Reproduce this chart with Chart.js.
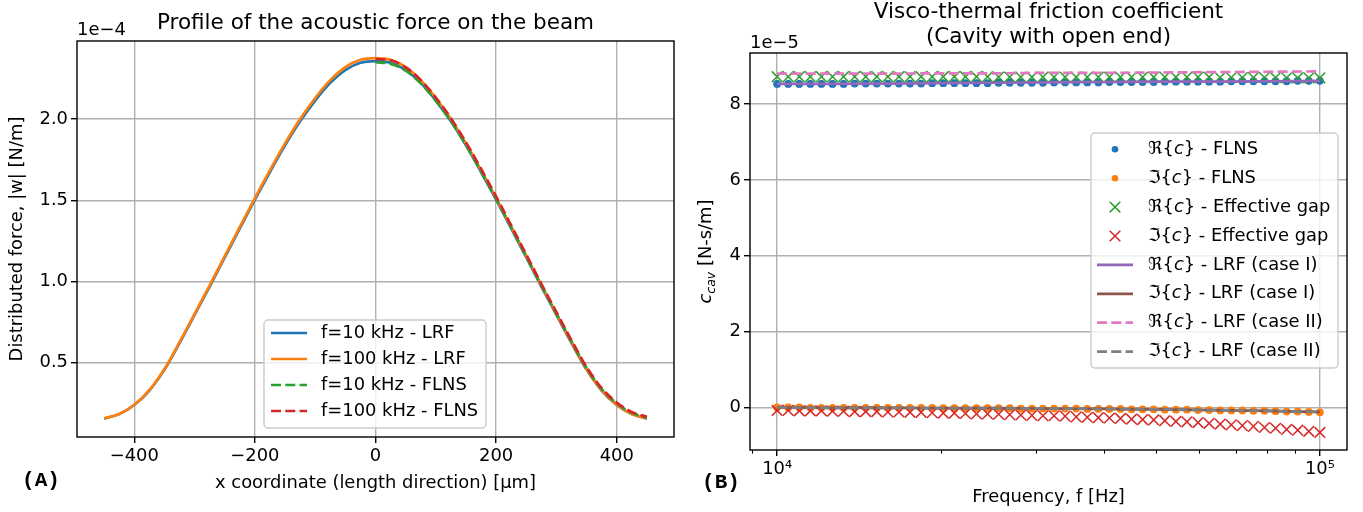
<!DOCTYPE html>
<html>
<head>
<meta charset="utf-8">
<script src="https://cdn.jsdelivr.net/npm/chart.js@4.4.1/dist/chart.umd.min.js"></script>
<style>
    html, body { margin: 0; padding: 0; background: #fff; }
    #wrap { position: relative; width: 1363px; height: 512px; overflow: hidden; }
    #profileChart { position: absolute; left: 0; top: 0; }
    #frictionChart { position: absolute; left: 690px; top: 0; }
</style>
</head>
<body>
<div id="wrap">
    <canvas id="profileChart" width="690" height="512"></canvas>
    <canvas id="frictionChart" width="673" height="512"></canvas>
</div>
<script>
/* ====================================
   DATA - (A) ACOUSTIC FORCE PROFILE (x 1e-4 N/m)
==================================== */

const profileX = [
    -450, -425, -400, -375, -350, -325, -300, -275, -250, -225,
    -200, -175, -150, -125, -100, -75, -50, -25, 0,
    25, 50, 75, 100, 125, 150, 175, 200, 225, 250,
    275, 300, 325, 350, 375, 400, 425, 450
];

const lrf10k = [
    0.154, 0.182, 0.238, 0.327, 0.456, 0.620, 0.794, 0.968, 1.147, 1.326,
    1.503, 1.674, 1.838, 1.986, 2.114, 2.223, 2.302, 2.347, 2.357,
    2.347, 2.302, 2.223, 2.114, 1.986, 1.838, 1.674, 1.503, 1.326, 1.147,
    0.968, 0.794, 0.620, 0.456, 0.327, 0.238, 0.182, 0.154
];

const lrf100k = [
    0.155, 0.183, 0.240, 0.330, 0.460, 0.625, 0.800, 0.975, 1.155, 1.335,
    1.513, 1.685, 1.850, 2.000, 2.130, 2.240, 2.320, 2.365, 2.375,
    2.365, 2.320, 2.240, 2.130, 2.000, 1.850, 1.685, 1.513, 1.335, 1.155,
    0.975, 0.800, 0.625, 0.460, 0.330, 0.240, 0.183, 0.155
];

const flnsX = [
    0, 25, 50, 75, 100, 125, 150, 175, 200, 225,
    250, 275, 300, 325, 350, 375, 400, 425, 450
];

const flns10k = [
    2.350, 2.340, 2.298, 2.220, 2.113, 1.987, 1.840, 1.678, 1.508, 1.332,
    1.153, 0.975, 0.802, 0.630, 0.466, 0.337, 0.248, 0.190, 0.160
];

const flns100k = [
    2.370, 2.362, 2.318, 2.240, 2.132, 2.005, 1.857, 1.694, 1.523, 1.345,
    1.165, 0.985, 0.810, 0.637, 0.472, 0.342, 0.253, 0.195, 0.165
];

const profileXTicks = [-400, -200, 0, 200, 400];
const profileXTickLabels = ["\u2212400", "\u2212200", "0", "200", "400"];
const profileYTicks = [0.5, 1.0, 1.5, 2.0];
const profileYTickLabels = ["0.5", "1.0", "1.5", "2.0"];

/* ====================================
   DATA - (B) FRICTION COEFFICIENT (x 1e-5 N-s/m)
==================================== */

const freq = [
    10000, 10481, 10985, 11514, 12068, 12649, 13257, 13895, 14563, 15264,
    15999, 16768, 17575, 18421, 19307, 20236, 21210, 22230, 23300, 24421,
    25595, 26827, 28118, 29471, 30888, 32375, 33932, 35565, 37276, 39069,
    40949, 42919, 44984, 47149, 49417, 51795, 54287, 56899, 59636, 62506,
    65513, 68665, 71969, 75431, 79060, 82864, 86851, 91029, 95409, 100000
];

const reFlns = [
    8.53, 8.53, 8.53, 8.53, 8.53, 8.53, 8.53, 8.54, 8.54, 8.54,
    8.54, 8.54, 8.54, 8.54, 8.55, 8.55, 8.55, 8.55, 8.55, 8.55,
    8.56, 8.56, 8.56, 8.56, 8.56, 8.57, 8.57, 8.57, 8.57, 8.57,
    8.58, 8.58, 8.58, 8.58, 8.58, 8.59, 8.59, 8.59, 8.59, 8.59,
    8.59, 8.60, 8.60, 8.60, 8.60, 8.60, 8.60, 8.61, 8.61, 8.61
];

const imFlns = [
    0.00, 0.00, 0.00, -0.01, -0.01, -0.01, -0.01, -0.01, -0.01, -0.01,
    -0.01, -0.01, -0.01, -0.01, -0.01, -0.02, -0.02, -0.02, -0.02, -0.02,
    -0.02, -0.02, -0.03, -0.03, -0.03, -0.03, -0.03, -0.03, -0.04, -0.04,
    -0.04, -0.04, -0.05, -0.05, -0.05, -0.06, -0.06, -0.06, -0.07, -0.07,
    -0.08, -0.08, -0.08, -0.09, -0.09, -0.10, -0.11, -0.11, -0.12, -0.13
];

const reGap = [
    8.72, 8.72, 8.72, 8.72, 8.72, 8.72, 8.72, 8.72, 8.72, 8.72,
    8.72, 8.72, 8.72, 8.72, 8.72, 8.72, 8.72, 8.72, 8.72, 8.72,
    8.71, 8.71, 8.71, 8.71, 8.71, 8.71, 8.71, 8.71, 8.71, 8.71,
    8.71, 8.71, 8.71, 8.71, 8.71, 8.71, 8.71, 8.71, 8.71, 8.71,
    8.70, 8.70, 8.70, 8.70, 8.70, 8.70, 8.69, 8.69, 8.69, 8.69
];

const imGap = [
    -0.08, -0.08, -0.09, -0.09, -0.09, -0.10, -0.10, -0.11, -0.11, -0.11,
    -0.12, -0.12, -0.13, -0.13, -0.14, -0.15, -0.15, -0.16, -0.17, -0.17,
    -0.18, -0.19, -0.20, -0.21, -0.22, -0.22, -0.23, -0.25, -0.26, -0.27,
    -0.28, -0.29, -0.31, -0.32, -0.33, -0.35, -0.37, -0.38, -0.40, -0.42,
    -0.44, -0.46, -0.48, -0.50, -0.53, -0.55, -0.58, -0.60, -0.63, -0.66
];

const freqLine = [
    10000, 12589, 15849, 19953, 25119, 31623, 39811, 50119, 63096, 79433, 100000
];

const reLrfCase1 = [8.53, 8.53, 8.54, 8.55, 8.56, 8.57, 8.58, 8.59, 8.59, 8.60, 8.61];
const imLrfCase1 = [0.00, -0.01, -0.01, -0.02, -0.02, -0.03, -0.04, -0.05, -0.07, -0.09, -0.12];
const reLrfCase2 = [8.80, 8.80, 8.80, 8.81, 8.81, 8.82, 8.82, 8.83, 8.84, 8.85, 8.86];
const imLrfCase2 = [0.00, -0.01, -0.01, -0.02, -0.02, -0.03, -0.04, -0.05, -0.07, -0.09, -0.12];

const freqTicks = [10000, 100000];
const freqTickLabels = ["10\u2074", "10\u2075"];
const freqMinorTicks = [9000, 20000, 30000, 40000, 50000, 60000, 70000, 80000, 90000];
const cavYTicks = [0, 2, 4, 6, 8];
const cavYTickLabels = ["0", "2", "4", "6", "8"];

/* ====================================
   STYLE
==================================== */

const FAMILY = "'DejaVu Sans'";
const FS = 17.9;
const DASH = [10, 4.3];
const GRID = "#b0b0b0";

Chart.defaults.font.family = FAMILY;
Chart.defaults.color = "#000";

function toPoints(xs, ys) {
    return xs.map((x, i) => ({ x: x, y: ys[i] }));
}

function lineSet(label, xs, ys, color, dash, order) {
    return {
        label: label,
        data: toPoints(xs, ys),
        borderColor: color,
        backgroundColor: color,
        borderWidth: 2.7,
        borderDash: dash,
        pointRadius: 0,
        cubicInterpolationMode: "monotone",
        order: order,
        legendKind: "line"
    };
}

function markerSet(label, xs, ys, color, style, order) {
    const dot = style === "circle";
    return {
        label: label,
        data: toPoints(xs, ys),
        showLine: false,
        borderColor: color,
        backgroundColor: color,
        pointStyle: style,
        pointRadius: dot ? 3.3 : 7.5,
        pointBorderWidth: dot ? 1.2 : 1.5,
        pointBackgroundColor: color,
        pointBorderColor: color,
        order: order,
        legendKind: style
    };
}

function axis(min, max, ticks, labels, size, extra) {
    return Object.assign({
        min: min,
        max: max,
        afterBuildTicks: s => { s.ticks = ticks.map(v => ({ value: v })); },
        afterFit: s => {
            if (s.isHorizontal()) s.height = size; else s.width = size;
        },
        ticks: {
            callback: (v, i) => labels[i],
            autoSkip: false,
            maxRotation: 0,
            font: { size: FS },
            color: "#000"
        },
        grid: {
            color: GRID,
            lineWidth: 1.4,
            tickColor: "#000",
            tickWidth: 1.4,
            tickLength: 6
        },
        border: { display: false }
    }, extra);
}

/* ====================================
   DECORATION PLUGIN (frame, titles, legend)
==================================== */

function drawRich(ctx, text, x, y) {
    const k = text.indexOf("{c}");
    ctx.font = FS + "px " + FAMILY;
    if (k < 0) { ctx.fillText(text, x, y); return; }
    const head = text.slice(0, k + 1);
    const tail = text.slice(k + 2);
    ctx.fillText(head, x, y);
    x += ctx.measureText(head).width;
    ctx.font = "italic " + FS + "px " + FAMILY;
    ctx.fillText("c", x, y);
    x += ctx.measureText("c").width;
    ctx.font = FS + "px " + FAMILY;
    ctx.fillText(tail, x, y);
}

function drawLegend(ctx, chart, lg) {
    ctx.save();
    ctx.fillStyle = "rgba(255,255,255,0.8)";
    ctx.strokeStyle = "#cccccc";
    ctx.lineWidth = 1.4;
    ctx.beginPath();
    ctx.roundRect(lg.x, lg.y, lg.w, lg.h, 4);
    ctx.fill();
    ctx.stroke();

    chart.data.datasets.forEach((ds, i) => {
        const cy = lg.row0 + i * lg.step;
        const x0 = lg.sampleX;
        const x1 = lg.sampleX + 36;
        const mx = (x0 + x1) / 2;
        ctx.strokeStyle = ds.borderColor;
        ctx.fillStyle = ds.borderColor;
        if (ds.legendKind === "line") {
            ctx.lineWidth = 2.7;
            ctx.setLineDash(ds.borderDash || []);
            ctx.beginPath();
            ctx.moveTo(x0, cy);
            ctx.lineTo(x1, cy);
            ctx.stroke();
            ctx.setLineDash([]);
        } else if (ds.legendKind === "circle") {
            ctx.beginPath();
            ctx.arc(mx, cy, 3.3, 0, Math.PI * 2);
            ctx.fill();
        } else {
            const h = 7.5 * Math.SQRT1_2;
            ctx.lineWidth = 1.5;
            ctx.beginPath();
            ctx.moveTo(mx - h, cy - h);
            ctx.lineTo(mx + h, cy + h);
            ctx.moveTo(mx + h, cy - h);
            ctx.lineTo(mx - h, cy + h);
            ctx.stroke();
        }
        ctx.fillStyle = "#000";
        ctx.textAlign = "left";
        ctx.textBaseline = "middle";
        drawRich(ctx, ds.label, lg.textX, cy);
    });
    ctx.restore();
}

const decorPlugin = {
    id: "decor",
    afterDraw(chart, args, opts) {
        const ctx = chart.ctx;
        const a = chart.chartArea;
        ctx.save();

        // minor ticks of the log axis
        if (opts.minorTicks) {
            const xs = chart.scales.x;
            ctx.strokeStyle = "#000";
            ctx.lineWidth = 1.1;
            opts.minorTicks.forEach(v => {
                const px = Math.round(xs.getPixelForValue(v)) + 0.5;
                ctx.beginPath();
                ctx.moveTo(px, a.bottom);
                ctx.lineTo(px, a.bottom + 3.6);
                ctx.stroke();
            });
        }

        // axes frame
        ctx.strokeStyle = "#000";
        ctx.lineWidth = 1.4;
        ctx.strokeRect(a.left, a.top, a.right - a.left, a.bottom - a.top);

        // title
        ctx.fillStyle = "#000";
        ctx.textAlign = "center";
        ctx.textBaseline = "alphabetic";
        ctx.font = "21.5px " + FAMILY;
        opts.title.forEach((t, i) => {
            ctx.fillText(t, (a.left + a.right) / 2, opts.titleY[i]);
        });

        // scale offset text
        ctx.textAlign = "left";
        ctx.font = FS + "px " + FAMILY;
        ctx.fillText(opts.offsetText, a.left, opts.offsetY);

        // panel label
        ctx.font = "bold 21px 'Liberation Mono'";
        ctx.textAlign = "center";
        ctx.textBaseline = "middle";
        ctx.fillText(opts.panel.text, opts.panel.x, opts.panel.y);

        // custom y title with subscript
        if (opts.cavTitle) {
            const parts = [
                { t: "c", f: "italic " + FS + "px " + FAMILY, dy: 0 },
                { t: "cav", f: "italic 12.5px " + FAMILY, dy: 3.5 },
                { t: " [N-s/m]", f: FS + "px " + FAMILY, dy: 0 }
            ];
            let total = 0;
            parts.forEach(p => { ctx.font = p.f; p.w = ctx.measureText(p.t).width; total += p.w; });
            ctx.save();
            ctx.translate(opts.cavTitle.x, (a.top + a.bottom) / 2);
            ctx.rotate(-Math.PI / 2);
            ctx.textAlign = "left";
            ctx.textBaseline = "alphabetic";
            let x = -total / 2;
            parts.forEach(p => { ctx.font = p.f; ctx.fillText(p.t, x, p.dy); x += p.w; });
            ctx.restore();
        }

        drawLegend(ctx, chart, opts.legend);
        ctx.restore();
    }
};

/* ====================================
   (A) PROFILE CHART
==================================== */

function createProfileChart() {

    new Chart(document.getElementById("profileChart"), {
        type: "line",
        data: {
            datasets: [
                lineSet("f=10 kHz - LRF", profileX, lrf10k, "#1f77b4", [], 4),
                lineSet("f=100 kHz - LRF", profileX, lrf100k, "#ff7f0e", [], 3),
                lineSet("f=10 kHz - FLNS", flnsX, flns10k, "#2ca02c", DASH, 2),
                lineSet("f=100 kHz - FLNS", flnsX, flns100k, "#d62728", DASH, 1)
            ]
        },
        options: {
            responsive: false,
            animation: false,
            layout: { padding: { top: 41, right: 16, left: 0, bottom: 0 } },
            plugins: {
                legend: { display: false },
                tooltip: { enabled: false },
                decor: {
                    title: ["Profile of the acoustic force on the beam"],
                    titleY: [29],
                    offsetText: "1e\u22124",
                    offsetY: 35,
                    panel: { text: "(A)", x: 41, y: 481 },
                    legend: { x: 264, y: 320, w: 222, h: 108, row0: 333, step: 26, sampleX: 271, textX: 321 }
                }
            },
            scales: {
                x: axis(-495, 495, profileXTicks, profileXTickLabels, 75, {
                    type: "linear",
                    title: {
                        display: true,
                        text: "x coordinate (length direction) [\u03bcm]",
                        font: { size: FS },
                        padding: { top: 0, bottom: 18 }
                    }
                }),
                y: axis(0.041, 2.481, profileYTicks, profileYTickLabels, 77, {
                    type: "linear",
                    title: {
                        display: true,
                        text: "Distributed force, |w| [N/m]",
                        font: { size: FS },
                        padding: { top: 7, bottom: 0 }
                    }
                })
            }
        },
        plugins: [decorPlugin]
    });

}

/* ====================================
   (B) FRICTION CHART
==================================== */

function createFrictionChart() {

    new Chart(document.getElementById("frictionChart"), {
        type: "line",
        data: {
            datasets: [
                markerSet("\u211c{c} - FLNS", freq, reFlns, "#1f77b4", "circle", 8),
                markerSet("\u2111{c} - FLNS", freq, imFlns, "#ff7f0e", "circle", 7),
                markerSet("\u211c{c} - Effective gap", freq, reGap, "#2ca02c", "crossRot", 6),
                markerSet("\u2111{c} - Effective gap", freq, imGap, "#d62728", "crossRot", 5),
                lineSet("\u211c{c} - LRF (case I)", freqLine, reLrfCase1, "#9467bd", [], 4),
                lineSet("\u2111{c} - LRF (case I)", freqLine, imLrfCase1, "#8c564b", [], 3),
                lineSet("\u211c{c} - LRF (case II)", freqLine, reLrfCase2, "#e377c2", DASH, 2),
                lineSet("\u2111{c} - LRF (case II)", freqLine, imLrfCase2, "#7f7f7f", DASH, 1)
            ]
        },
        options: {
            responsive: false,
            animation: false,
            layout: { padding: { top: 53, right: 16, left: 0, bottom: 0 } },
            plugins: {
                legend: { display: false },
                tooltip: { enabled: false },
                decor: {
                    title: ["Visco-thermal friction coefficient", "(Cavity with open end)"],
                    titleY: [18, 43],
                    offsetText: "1e\u22125",
                    offsetY: 48,
                    panel: { text: "(B)", x: 31, y: 483 },
                    minorTicks: freqMinorTicks,
                    cavTitle: { x: 21 },
                    legend: { x: 401, y: 133, w: 247, h: 235, row0: 149.3, step: 28.9, sampleX: 407, textX: 458 }
                }
            },
            scales: {
                x: axis(8913, 112202, freqTicks, freqTickLabels, 62, {
                    type: "logarithmic",
                    title: {
                        display: true,
                        text: "Frequency, f [Hz]",
                        font: { size: FS },
                        padding: { top: 0, bottom: 4 }
                    }
                }),
                y: axis(-1.123, 9.345, cavYTicks, cavYTickLabels, 60, {
                    type: "linear"
                })
            }
        },
        plugins: [decorPlugin]
    });

}

createProfileChart();

createFrictionChart();
</script>
</body>
</html>
